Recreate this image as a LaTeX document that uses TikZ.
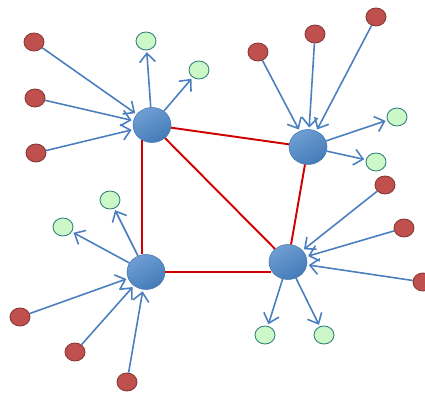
\documentclass[tikz,border=0pt]{standalone}
\usepackage{tikz}
\usetikzlibrary{arrows.meta , shapes.geometric}

\definecolor{hubblue}{HTML}{4A86C8}
\definecolor{linkblue}{HTML}{4A7FBF}
\definecolor{srcred}{HTML}{C0504D}
\definecolor{sinkgreen}{HTML}{CCF7C6}
\definecolor{edgered}{HTML}{D00000}

\begin{document}
\begin{tikzpicture}[x = 0.02cm , y = -0.02cm,
    hub/.style = {ellipse , draw = hubblue!85!black , line width = 0.3pt , top color = hubblue!80!white , bottom color = hubblue!92!black , shading angle = 30 , minimum width = 0.76cm , minimum height = 0.70cm , inner sep = 0pt},
    src/.style = {ellipse , draw = srcred!70!black , line width = 0.5pt , fill = srcred , minimum width = 0.40cm , minimum height = 0.36cm , inner sep = 0pt},
    sink/.style = {ellipse , draw = teal!60!gray , line width = 0.5pt , fill = sinkgreen , minimum width = 0.40cm , minimum height = 0.36cm , inner sep = 0pt},
    link/.style = {draw = linkblue , line width = 0.9pt , -{Straight Barb[length = 5pt , width = 9pt]} , shorten > = 1pt},
    edge/.style = {draw = edgered , line width = 1.1pt}]
    \useasboundingbox (0,0) rectangle (425,394);
    % Κόμβοι
    \node[hub] (A) at (152,125) {};
    \node[hub] (B) at (308,147) {};
    \node[hub] (C) at (146,272) {};
    \node[hub] (D) at (288,262) {};
    % Κόκκινες ακμές
    \draw[edge] (A) -- (B);
    \draw[edge] (A) -- (D);
    \draw[edge] (B) -- (D);
    \draw[edge] (A.235) -- (A.235 |- C.north);
    \draw[edge] (C.east) -- (C.east -| D.205);
    % Πηγές και προορισμοί του A
    \node[src] (a1) at (34,42) {};
    \node[src] (a2) at (35,98) {};
    \node[src] (a3) at (36,153) {};
    \node[sink] (a4) at (146,41) {};
    \node[sink] (a5) at (199,70) {};
    \draw[link] (a1) -- (A);
    \draw[link] (a2) -- (A);
    \draw[link] (a3) -- (A);
    \draw[link] (A) -- (a4);
    \draw[link] (A) -- (a5);
    % Πηγές και προορισμοί του B
    \node[src] (b1) at (258,52) {};
    \node[src] (b2) at (315,34) {};
    \node[src] (b3) at (376,17) {};
    \node[sink] (b4) at (397,117) {};
    \node[sink] (b5) at (376,162) {};
    \draw[link] (b1) -- (B);
    \draw[link] (b2) -- (B);
    \draw[link] (b3) -- (B);
    \draw[link] (B) -- (b4);
    \draw[link] (B) -- (b5);
    % Πηγές και προορισμοί του C
    \node[sink] (c4) at (110,200) {};
    \node[sink] (c5) at (63,227) {};
    \node[src] (c1) at (20,317) {};
    \node[src] (c2) at (75,352) {};
    \node[src] (c3) at (127,382) {};
    \draw[link] (c1) -- (C);
    \draw[link] (c2) -- (C);
    \draw[link] (c3) -- (C);
    \draw[link] (C) -- (c4);
    \draw[link] (C) -- (c5);
    % Πηγές και προορισμοί του D
    \node[src] (d1) at (385,185) {};
    \node[src] (d2) at (404,228) {};
    \node[src] (d3) at (423,282) {};
    \node[sink] (d4) at (265,335) {};
    \node[sink] (d5) at (324,335) {};
    \draw[link] (d1) -- (D);
    \draw[link] (d2) -- (D);
    \draw[link] (d3) -- (D);
    \draw[link] (D) -- (d4);
    \draw[link] (D) -- (d5);
\end{tikzpicture}
\end{document}
